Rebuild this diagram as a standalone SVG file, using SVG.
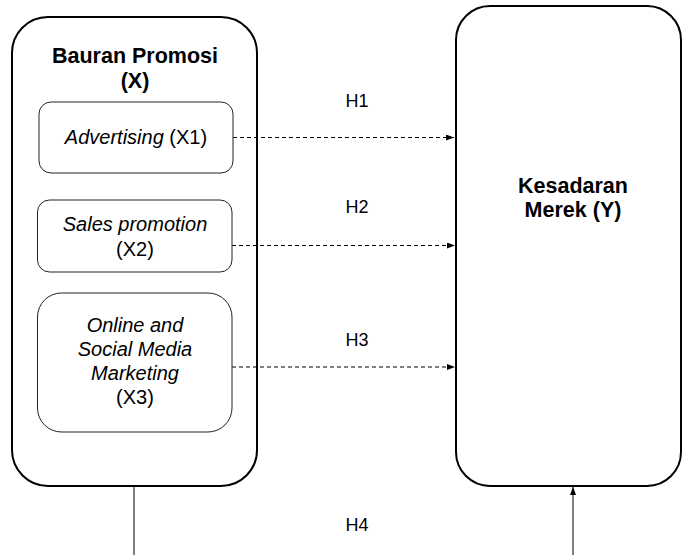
<svg xmlns="http://www.w3.org/2000/svg" width="683" height="555" viewBox="0 0 683 555">
<style>
.big{fill:#fff;stroke:#000;stroke-width:2}
.inner{fill:#fff;stroke:#222;stroke-width:1}
.t{font-family:"Liberation Sans",Arial,sans-serif;font-size:20px;fill:#000;text-anchor:middle}
.b{font-weight:bold;font-size:21.5px}
.h{font-size:18px}
.i{font-style:italic}
.dash{stroke:#000;stroke-width:1;stroke-dasharray:4 3;fill:none}
.solid{stroke:#000;stroke-width:1;fill:none}
</style>
<defs>
<marker id="arr" viewBox="0 0 8 6" refX="8" refY="3" markerWidth="8" markerHeight="6" markerUnits="userSpaceOnUse" orient="auto">
<path d="M0,0 L8,3 L0,6 Z" fill="#000"/>
</marker>
</defs>
<rect width="683" height="555" fill="#fff"/>
<g id="connectors">
<line class="dash" x1="233" y1="137.5" x2="454" y2="137.5" marker-end="url(#arr)"/>
<line class="dash" x1="232" y1="245.5" x2="455" y2="245.5" marker-end="url(#arr)"/>
<line class="dash" x1="232" y1="367" x2="455" y2="367" marker-end="url(#arr)"/>
<line class="solid" x1="134" y1="487" x2="134" y2="555"/>
<line class="solid" x1="573" y1="555" x2="573" y2="487" marker-end="url(#arr)"/>
</g>
<g id="bauran-promosi">
<rect class="big" x="12" y="17" width="245" height="469" rx="36" ry="36" fill="none" style="fill:none"/>
<text class="t b" x="135" y="63">Bauran Promosi</text>
<text class="t b" x="135" y="88">(X)</text>
</g>
<g id="advertising">
<rect class="inner" x="39" y="102" width="194" height="71" rx="12"/>
<text class="t" x="136" y="144"><tspan class="i">Advertising</tspan> (X1)</text>
</g>
<g id="sales-promotion">
<rect class="inner" x="37.5" y="200" width="194.5" height="72" rx="12"/>
<text class="t" x="135" y="231"><tspan class="i">Sales promotion</tspan></text>
<text class="t" x="135" y="256">(X2)</text>
</g>
<g id="online-social">
<rect class="inner" x="37.5" y="293" width="194.5" height="139" rx="24"/>
<text class="t i" x="135" y="332">Online and</text>
<text class="t i" x="135" y="356">Social Media</text>
<text class="t i" x="135" y="380">Marketing</text>
<text class="t" x="135" y="404">(X3)</text>
</g>
<g id="kesadaran-merek">
<rect class="big" x="456" y="6" width="225" height="480" rx="34" ry="34" style="fill:none"/>
<text class="t b" x="573" y="193">Kesadaran</text>
<text class="t b" x="573" y="217">Merek (Y)</text>
</g>
<g id="labels">
<text class="t h" x="357" y="107">H1</text>
<text class="t h" x="357" y="213">H2</text>
<text class="t h" x="357" y="346">H3</text>
<text class="t h" x="357" y="531">H4</text>
</g>
</svg>
